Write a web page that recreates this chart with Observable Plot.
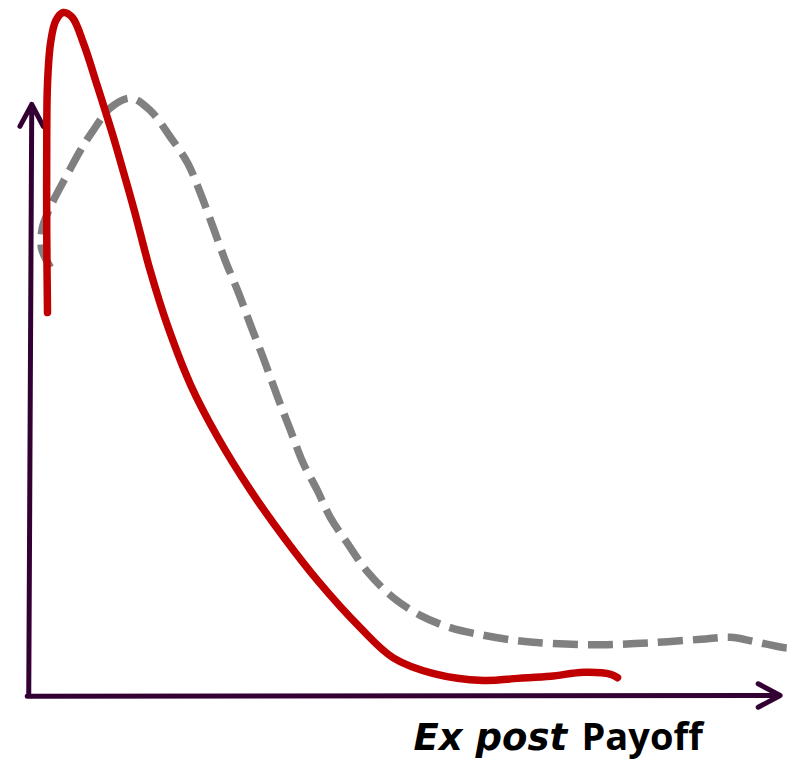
<!DOCTYPE html>
<html>
<head>
<meta charset="utf-8">
<script src="https://cdn.jsdelivr.net/npm/d3@7"></script>
<script src="https://cdn.jsdelivr.net/npm/@observablehq/plot@0.6"></script>
<style>
  html, body { margin: 0; padding: 0; background: #ffffff; }
  #chart svg { display: block; }
</style>
</head>
<body>
<div id="chart"></div>
<script>
// Solid red density (payoff, density)
const redPayoff = [2.4, 2.3, 2.3, 2.4, 2.8, 3.5, 4.5, 5.7, 7.2, 9.1, 10.8, 11.7, 13.9, 16.1, 18.4, 21.5, 25.1, 29.5, 33.9, 38.4, 44.1, 48.5, 53.9, 60.5, 65.1, 69.5, 73.9, 77.5, 78.4];
const redDensity = [55.9, 67.4, 82.0, 89.3, 95.2, 98.5, 99.7, 99.0, 95.2, 88.8, 82.9, 79.6, 71.1, 62.0, 54.0, 45.3, 37.7, 29.9, 23.1, 16.8, 9.9, 5.5, 3.2, 2.2, 2.5, 2.8, 3.4, 3.1, 2.6];

// Dashed grey density
const greyPayoff = [2.8, 1.6, 1.7, 2.4, 3.2, 5.1, 6.8, 8.5, 10.8, 13.5, 16.1, 18.8, 21.1, 22.8, 24.5, 26.1, 27.9, 29.5, 31.2, 33.1, 34.8, 36.5, 38.4, 40.1, 42.4, 45.1, 48.5, 52.1, 56.1, 60.5, 65.1, 69.5, 76.1, 82.8, 89.5, 93.5, 96.5, 100.5, 101.9];
const greyDensity = [62.5, 65.3, 68.2, 70.4, 72.3, 76.2, 79.6, 82.5, 85.8, 87.2, 85.4, 81.5, 77.7, 73.3, 68.3, 63.5, 58.7, 54.0, 49.2, 43.5, 38.7, 33.9, 29.9, 26.0, 22.2, 18.0, 14.3, 11.7, 9.9, 8.8, 8.0, 7.6, 7.4, 7.7, 8.2, 8.5, 7.9, 7.0, 6.9];

// Axis arrows (from, to) in the same units
const axisFromX = [-0.1, -0.3];
const axisFromY = [0.3, -0.1];
const axisToX = [0.3, 100.1];
const axisToY = [86.3, 0.0];

// Axis title pieces
const titleParts = ["Ex post", "Payoff"];
const titleX = [51.2, 73.6];
const titleY = [-8.0, -8.0];

const red = redPayoff.map((x, i) => ({x, y: redDensity[i]}));
const grey = greyPayoff.map((x, i) => ({x, y: greyDensity[i]}));
const axes = axisFromX.map((x1, i) => ({x1, y1: axisFromY[i], x2: axisToX[i], y2: axisToY[i]}));
const titleItalic = [{text: titleParts[0], x: titleX[0], y: titleY[0]}];
const titlePlain = [{text: titleParts[1], x: titleX[1], y: titleY[1]}];

const chart = Plot.plot({
  width: 798,
  height: 760,
  margin: 0,
  style: {background: "#ffffff", overflow: "visible"},
  x: {domain: [0, 100], range: [29, 779], axis: null},
  y: {domain: [0, 100], range: [695, 10], axis: null},
  marks: [
    Plot.arrow(axes, {
      x1: "x1", y1: "y1", x2: "x2", y2: "y2",
      stroke: "#330033", strokeWidth: 5, headLength: 7.5, headAngle: 56
    }),
    Plot.line(grey, {
      x: "x", y: "y", curve: "catmull-rom",
      stroke: "#808080", strokeWidth: 7.5, strokeDasharray: "25,10", strokeLinecap: "butt"
    }),
    Plot.line(red, {
      x: "x", y: "y", curve: "catmull-rom",
      stroke: "#c00000", strokeWidth: 7.5, strokeLinecap: "round", strokeLinejoin: "round"
    }),
    Plot.text(titleItalic, {
      x: "x", y: "y", text: "text", textAnchor: "start", lineAnchor: "bottom",
      fontFamily: "DejaVu Sans", fontSize: 37, fontWeight: 700, fontStyle: "oblique", fill: "#000000"
    }),
    Plot.text(titlePlain, {
      x: "x", y: "y", text: "text", textAnchor: "start", lineAnchor: "bottom",
      fontFamily: "Open Sans", fontSize: 38, fontWeight: 700, fill: "#000000"
    })
  ]
});
document.getElementById("chart").appendChild(chart);
</script>
</body>
</html>
